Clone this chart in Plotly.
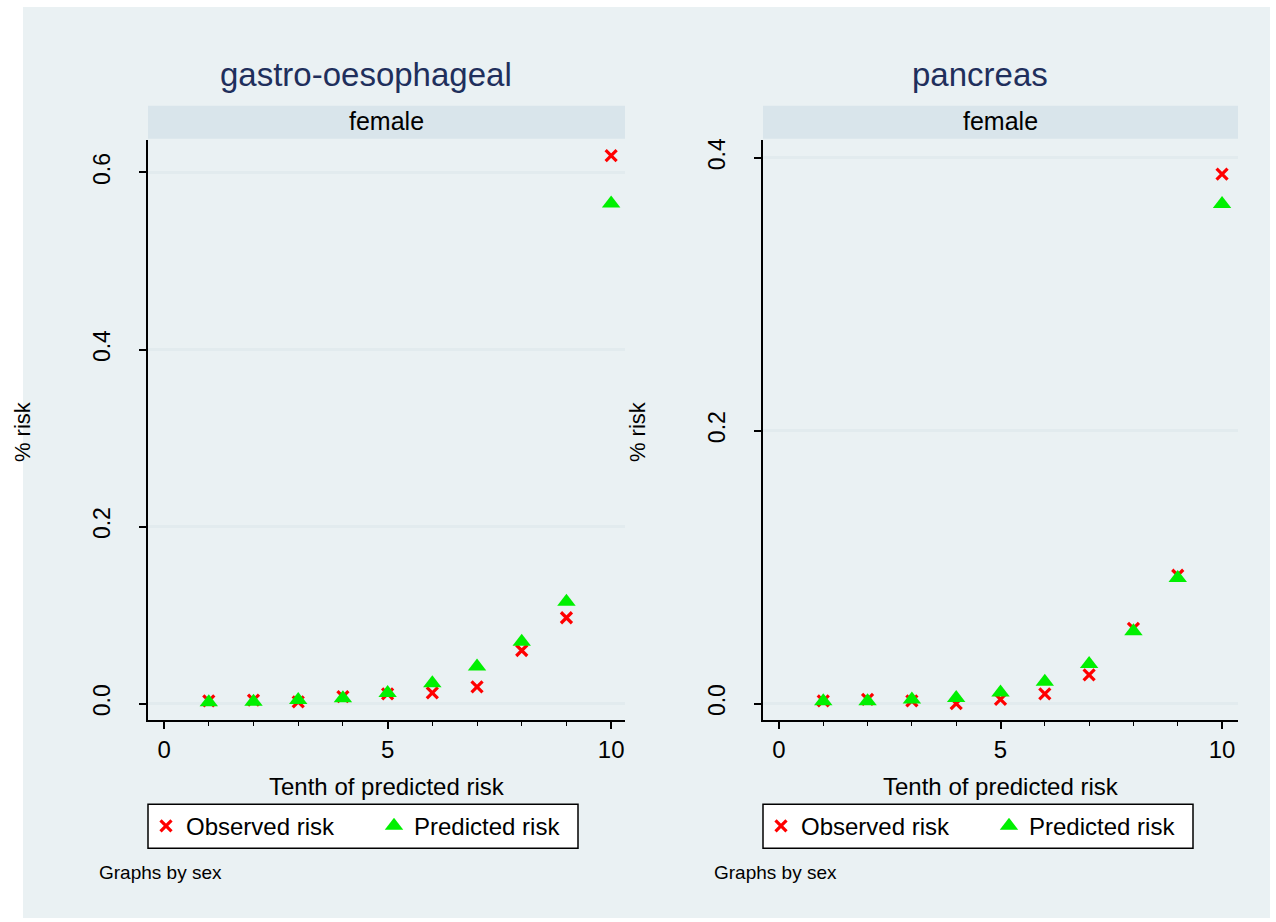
import plotly.graph_objects as go

W, H = 1276, 922

tenths = [1, 2, 3, 4, 5, 6, 7, 8, 9, 10]
go_observed = [0.003, 0.004, 0.002, 0.008, 0.011, 0.012, 0.019, 0.060, 0.097, 0.619]
go_predicted = [0.0015, 0.002, 0.004, 0.006, 0.012, 0.023, 0.042, 0.070, 0.115, 0.565]
pa_observed = [0.002, 0.003, 0.002, 0.000, 0.003, 0.007, 0.021, 0.055, 0.094, 0.388]
pa_predicted = [0.0017, 0.0017, 0.003, 0.004, 0.008, 0.016, 0.029, 0.053, 0.092, 0.366]

panel_titles = ["gastro-oesophageal", "pancreas"]
strip_label = "female"
y_ticks_left = [0.0, 0.2, 0.4, 0.6]
y_ticks_right = [0.0, 0.2, 0.4]
x_ticks = [0, 5, 10]

FONT = "Liberation Sans, Arial, sans-serif"
BG = "#EAF1F3"
STRIP = "#D9E5EB"
GRID = "#E2EBEE"
RED = "#FF0000"
GREEN = "#00F000"


def px_x(p):
    return p / W


def px_y(p):
    return 1 - p / H


panels = [
    dict(x0=148, x1=625, tx=366, obs=go_observed, pred=go_predicted, yt=y_ticks_left,
         yr=[-0.019, 0.637], xr=[-0.36, 10.31]),
    dict(x0=763, x1=1238, tx=980, obs=pa_observed, pred=pa_predicted, yt=y_ticks_right,
         yr=[-0.0124, 0.4132], xr=[-0.36, 10.36]),
]
top_px, bot_px = 138, 720

fig = go.Figure()
shapes = [dict(type="rect", xref="paper", yref="paper", x0=px_x(23), x1=px_x(1270),
               y0=px_y(918), y1=px_y(5), fillcolor=BG, line=dict(width=0), layer="below")]
annotations = []
layout_axes = {}

for i, p in enumerate(panels):
    n = "" if i == 0 else str(i + 1)
    xa, ya = "x" + n, "y" + n
    leg = "legend" if i == 0 else "legend2"
    fig.add_trace(go.Scatter(x=tenths, y=p["obs"], mode="markers", name="Observed risk",
                             marker=dict(symbol="x-thin", size=11, color=RED,
                                         line=dict(width=3.2, color=RED)),
                             xaxis=xa, yaxis=ya, legend=leg, cliponaxis=False))
    fig.add_trace(go.Scatter(x=tenths, y=p["pred"], mode="markers", name="Predicted risk",
                             marker=dict(symbol="triangle-up", size=16, color=GREEN,
                                         line=dict(width=0)),
                             xaxis=xa, yaxis=ya, legend=leg, cliponaxis=False))
    dom_x = [px_x(p["x0"]), px_x(p["x1"])]
    layout_axes["xaxis" + n] = dict(
        domain=dom_x, range=p["xr"], anchor=ya, tickvals=x_ticks,
        ticks="outside", ticklen=7, tickwidth=1.5, tickcolor="black",
        showline=True, linecolor="black", linewidth=1.5, showgrid=False, zeroline=False,
        tickfont=dict(size=24, color="black", family=FONT),
        minor=dict(dtick=1, tick0=0, ticks="outside", ticklen=4, tickwidth=1, tickcolor="black"),
    )
    layout_axes["yaxis" + n] = dict(
        domain=[px_y(bot_px), px_y(top_px)], range=p["yr"], anchor=xa,
        tickvals=p["yt"], ticktext=[f"{v:.1f}" for v in p["yt"]], tickangle=-90,
        ticks="outside", ticklen=7, tickwidth=1.5, tickcolor="black",
        showline=True, linecolor="black", linewidth=1.5,
        showgrid=True, gridcolor=GRID, gridwidth=3, zeroline=False,
        tickfont=dict(size=23, color="black", family=FONT), ticklabelstandoff=20,
    )
    # strip
    shapes.append(dict(type="rect", xref="paper", yref="paper", x0=dom_x[0], x1=dom_x[1],
                       y0=px_y(137), y1=px_y(104), fillcolor=STRIP, line=dict(width=0)))
    # legend box
    shapes.append(dict(type="rect", xref="paper", yref="paper", x0=px_x(p["x0"]),
                       x1=px_x(p["x0"] + 430), y0=px_y(848), y1=px_y(804),
                       fillcolor="white", line=dict(width=1.5, color="black"), layer="below"))
    cx = (p["x0"] + p["x1"]) / 2
    annotations.append(dict(text=strip_label, xref="paper", yref="paper", x=px_x(cx), y=px_y(119.5),
                            showarrow=False, xanchor="center", yanchor="middle",
                            font=dict(size=25, color="black", family=FONT)))
    annotations.append(dict(text=panel_titles[i], xref="paper", yref="paper", x=px_x(p["tx"]),
                            y=px_y(73), showarrow=False, xanchor="center", yanchor="middle",
                            font=dict(size=33, color="#1F2F5C", family=FONT)))
    annotations.append(dict(text="Tenth of predicted risk", xref="paper", yref="paper",
                            x=px_x(cx), y=px_y(786), showarrow=False, xanchor="center",
                            yanchor="middle", font=dict(size=24, color="black", family=FONT)))
    annotations.append(dict(text="% risk", xref="paper", yref="paper",
                            x=px_x(22 if i == 0 else 637), y=px_y(431), showarrow=False,
                            textangle=-90, xanchor="center", yanchor="middle",
                            font=dict(size=22, color="black", family=FONT)))
    annotations.append(dict(text="Graphs by sex", xref="paper", yref="paper",
                            x=px_x(97 if i == 0 else 712), y=px_y(872), showarrow=False,
                            xanchor="left", yanchor="middle",
                            font=dict(size=19, color="black", family=FONT)))
    layout_axes[leg] = dict(
        x=px_x(p["x0"] - 2), y=px_y(826), xanchor="left", yanchor="middle", orientation="h",
        bgcolor="rgba(0,0,0,0)", borderwidth=0,
        font=dict(size=24, color="black", family=FONT), itemwidth=30,
        entrywidth=183, tracegroupgap=0,
    )

fig.update_layout(
    width=W, height=H, margin=dict(l=0, r=0, t=0, b=0),
    paper_bgcolor="white", plot_bgcolor="white",
    shapes=shapes, annotations=annotations, showlegend=True,
    font=dict(family=FONT),
    **layout_axes,
)

fig.write_html("out.html")
